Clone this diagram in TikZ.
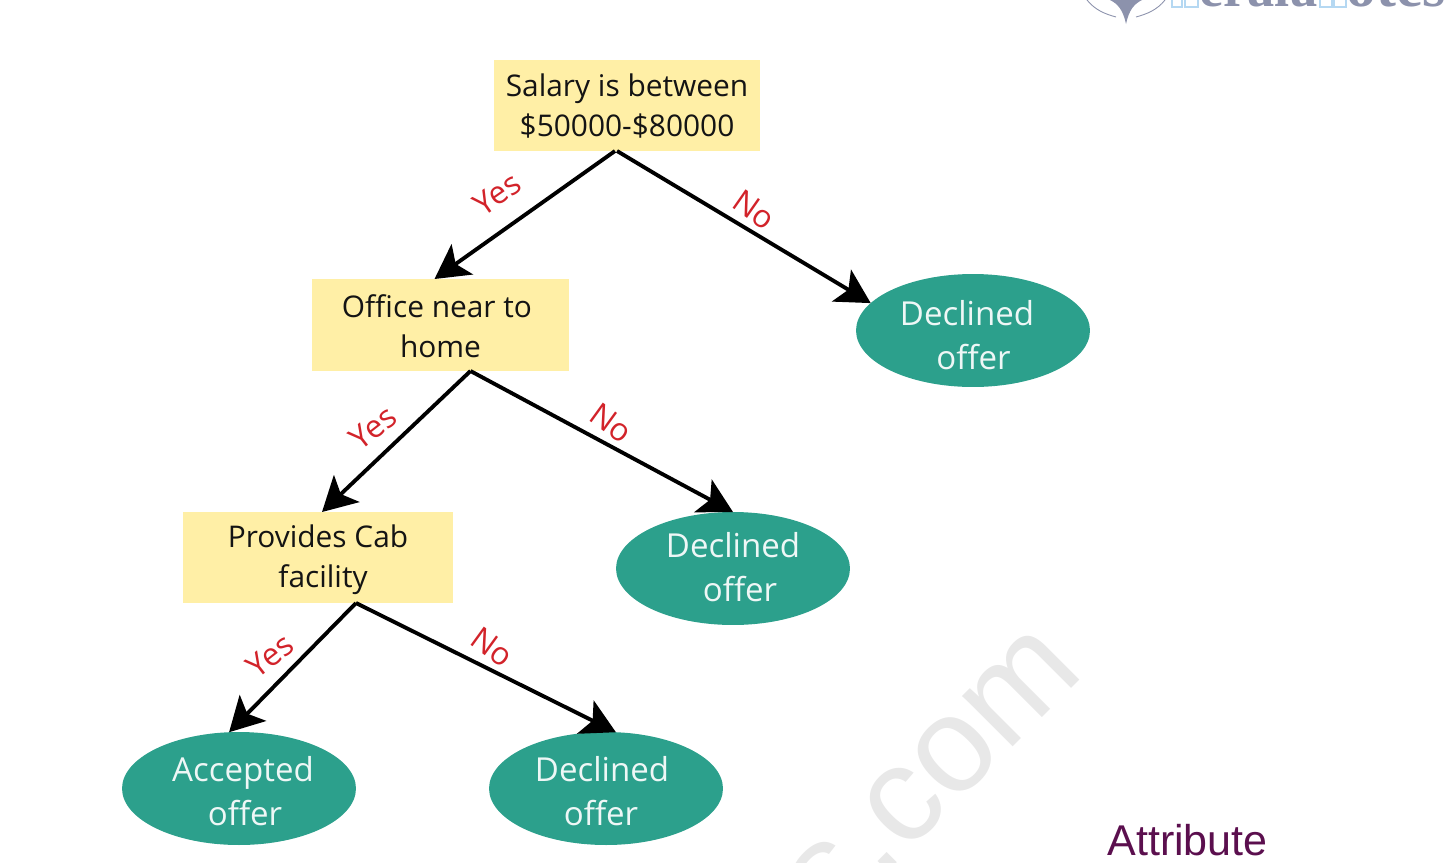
\documentclass[tikz,border=0pt]{standalone}
\usepackage{xcolor}
\usepackage{fontspec}
\usepackage{tikz}
\usetikzlibrary{arrows.meta,shapes.geometric}
\setmainfont{Open Sans}
\newfontfamily\wmfont{Liberation Sans}
\newfontfamily\logofont{Liberation Serif}
\definecolor{boxyellow}{HTML}{FFEFA6}
\definecolor{leafgreen}{HTML}{2CA08C}
\definecolor{labelred}{HTML}{D2232A}
\definecolor{attrpurple}{HTML}{5B0F4E}
\definecolor{logogray}{HTML}{8C92AC}
\definecolor{logoblue}{HTML}{B5D8F2}
\newcommand{\linedown}[1]{\rule{0pt}{#1}}

\begin{document}
\begin{tikzpicture}[
    x=0.02cm, y=-0.02cm,
    cond/.style={rectangle, fill=boxyellow, inner sep=0pt, outer sep=0pt, align=center, text=black!92, font=\fontsize{17}{22.8}\selectfont},
    leaf/.style={ellipse, fill=leafgreen, inner sep=0pt, outer sep=0pt, minimum width=4.68cm, minimum height=2.26cm, align=center, text=white!92!leafgreen, font=\fontsize{18.8}{25}\selectfont},
    branch/.style={-{Stealth[length=0.68cm, width=0.74cm, inset=0.16cm]}, line width=2.2pt},
    yeslabel/.style={text=labelred, inner sep=0pt, font=\fontsize{18}{18}\selectfont},
    >=Stealth
]
    \useasboundingbox (0,0) rectangle (1449,862);
    \clip (0,0) rectangle (1449,862);

    % Watermark
    \node[rotate=45, anchor=base west, text=black!9, font=\wmfont\fontsize{77}{77}\selectfont, inner sep=0pt] (mark) at (831,929) {s.com};

    % Logo
    \node[anchor=base west, text=logogray, inner sep=0pt, font=\logofont\bfseries\fontsize{31}{31}\selectfont] (logoa) at (1199,7) {erala};
    \node[anchor=base west, text=logogray, inner sep=0pt, font=\logofont\bfseries\fontsize{34}{34}\selectfont] (logob) at (1346,7) {otes};
    \draw[logoblue, line width=0.6pt] (1172,-5) rectangle (1182,7) (1185,-5) rectangle (1198,7) (1320,-5) rectangle (1332,7) (1334,-5) rectangle (1346,7);
    \fill[logogray] (1110,0) .. controls (1118,4) and (1123,10) .. (1126,24) .. controls (1129,10) and (1134,4) .. (1142,0) -- cycle;
    \draw[logogray, line width=0.5pt] (1087,0) .. controls (1095,10) and (1105,14) .. (1116,17) (1165,0) .. controls (1157,10) and (1147,14) .. (1136,17);

    % Conditions
    \node[cond, minimum width=5.32cm, minimum height=1.82cm] (salary) at (627,105.5) {\linedown{14pt}Salary is between\\\$50000-\$80000};
    \node[cond, minimum width=5.14cm, minimum height=1.84cm] (office) at (440.5,325) {\linedown{14pt}Office near to\hspace*{0.14cm}\\home};
    \node[cond, minimum width=5.4cm, minimum height=1.82cm] (cab) at (318,557.5) {\linedown{15.2pt}Provides Cab\\\hspace*{0.2cm}facility};

    % Leaves
    \node[leaf] (declineda) at (973,330.5) {\linedown{20pt}Declined\hspace*{0.24cm}\\\hspace*{0.02cm}offer};
    \node[leaf] (declinedb) at (733,568.5) {Declined\\\hspace*{0.28cm}offer\rule[-1.7pt]{0pt}{0pt}};
    \node[leaf] (accepted) at (239,788.5) {\linedown{17.7pt}\hspace*{0.16cm}Accepted\\\hspace*{0.24cm}offer};
    \node[leaf] (declinedc) at (606,788.5) {\linedown{17.7pt}Declined\hspace*{0.16cm}\\offer\hspace*{0.2cm}};

    % Arrows
    \draw[branch] ([xshift=-0.24cm]salary.south) -- ([xshift=-0.12cm]office.north);
    \draw[branch] ([xshift=-0.2cm]salary.south) -- (declineda.165);
    \draw[branch] ([xshift=0.6cm]office.south) -- ([xshift=0.08cm]cab.north);
    \draw[branch] ([xshift=0.6cm]office.south) -- (declinedb.north);
    \draw[branch] ([xshift=0.76cm]cab.south) -- (accepted.100);
    \draw[branch] ([xshift=0.76cm]cab.south) -- (declinedc.80);

    % Labels
    \node[yeslabel, rotate=35] (yesa) at (497,194) {Yes};
    \node[yeslabel, rotate=-35] (noa) at (754,210) {No};
    \node[yeslabel, rotate=38] (yesb) at (373,428) {Yes};
    \node[yeslabel, rotate=-36] (nob) at (611,423) {No};
    \node[yeslabel, rotate=38] (yesc) at (270,656) {Yes};
    \node[yeslabel, rotate=-36] (noc) at (492,647) {No};

    % Attribute
    \node[anchor=base west, text=attrpurple, inner sep=0pt, font=\wmfont\fontsize{24.5}{24.5}\selectfont] (attribute) at (1107,855) {Attribute};
\end{tikzpicture}
\end{document}
